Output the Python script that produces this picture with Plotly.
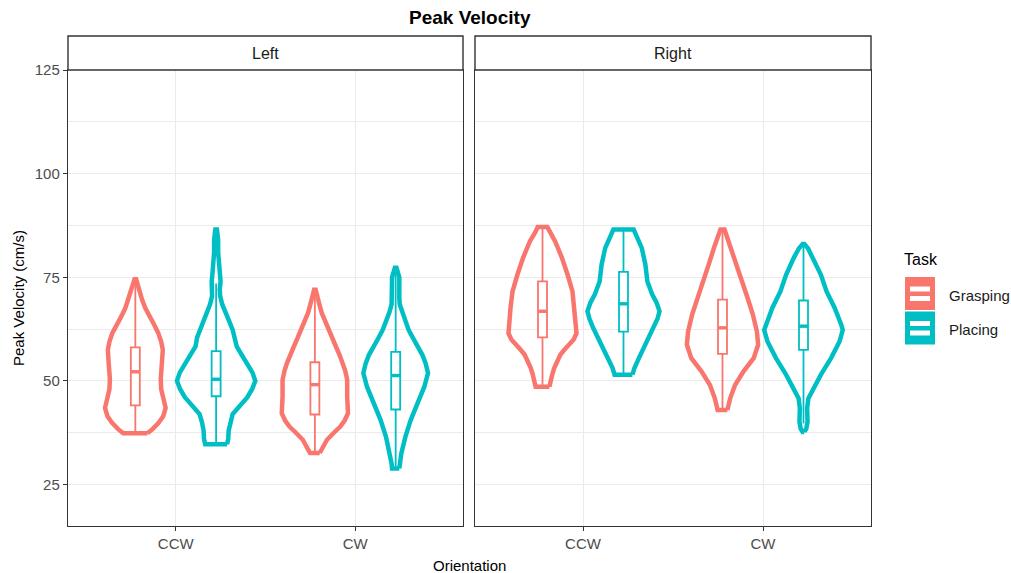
import plotly.graph_objects as go

# ---- categories -------------------------------------------------------------
sides = ["Left", "Right"]
orientations = ["CCW", "CW"]
tasks = ["Grasping", "Placing"]
task_colors = ["#F8766D", "#00BFC4"]

# ---- violin density profiles (velocity level, relative density) -------------
left_ccw_grasp_v = [37.4, 38.3, 39.8, 41.5, 43.5, 45.5, 48.0, 50.5, 54.3, 57.5,
                    59.5, 61.5, 63.5, 65.5, 67.5, 69.5, 71.5, 73.0, 74.5]
left_ccw_grasp_d = [0.30, 0.42, 0.57, 0.69, 0.75, 0.69, 0.64, 0.63, 0.66, 0.68,
                    0.64, 0.57, 0.47, 0.35, 0.25, 0.17, 0.11, 0.07, 0.02]

left_ccw_place_v = [34.7, 36.0, 38.0, 40.0, 42.0, 44.0, 46.0, 48.0, 50.0, 52.0,
                    54.3, 56.5, 58.3, 60.5, 62.3, 64.5, 66.4, 68.5, 70.5, 72.0,
                    74.0, 76.0, 78.0, 81.0, 84.0, 86.5]
left_ccw_place_d = [0.27, 0.30, 0.31, 0.35, 0.41, 0.59, 0.77, 0.89, 0.97, 0.90,
                    0.77, 0.62, 0.51, 0.47, 0.41, 0.32, 0.24, 0.15, 0.10, 0.09,
                    0.11, 0.09, 0.06, 0.05, 0.05, 0.02]

left_cw_grasp_v = [32.6, 33.5, 35.8, 37.5, 39.0, 40.5, 42.2, 46.2, 50.3, 52.5,
                   54.3, 56.3, 58.3, 60.3, 62.3, 64.3, 66.4, 68.5, 70.5, 72.0]
left_cw_grasp_d = [0.12, 0.17, 0.30, 0.47, 0.63, 0.74, 0.82, 0.80, 0.80, 0.75,
                   0.69, 0.61, 0.52, 0.43, 0.35, 0.25, 0.17, 0.11, 0.07, 0.02]

left_cw_place_v = [28.9, 30.0, 32.5, 36.5, 40.5, 44.6, 48.6, 51.9, 54.3, 56.3,
                   58.3, 60.3, 62.3, 64.3, 66.4, 68.5, 70.0, 72.5, 75.0, 77.3]
left_cw_place_d = [0.09, 0.10, 0.14, 0.24, 0.37, 0.54, 0.71, 0.80, 0.74, 0.66,
                   0.56, 0.43, 0.32, 0.24, 0.16, 0.10, 0.09, 0.09, 0.09, 0.02]

right_ccw_grasp_v = [48.6, 49.8, 51.5, 53.1, 54.7, 56.3, 57.5, 58.7, 60.0, 61.5,
                     63.6, 67.6, 71.6, 75.6, 79.7, 83.7, 86.0, 87.1]
right_ccw_grasp_d = [0.17, 0.19, 0.24, 0.29, 0.36, 0.44, 0.54, 0.64, 0.77, 0.84,
                     0.82, 0.79, 0.74, 0.62, 0.48, 0.31, 0.17, 0.12]

right_ccw_place_v = [51.5, 53.1, 55.5, 58.7, 62.8, 65.0, 66.8, 68.8, 70.8, 74.0,
                     78.1, 82.1, 85.0, 86.5]
right_ccw_place_d = [0.22, 0.27, 0.38, 0.54, 0.75, 0.84, 0.89, 0.82, 0.71, 0.59,
                     0.54, 0.45, 0.32, 0.25]

right_cw_grasp_v = [43.0, 45.8, 49.0, 52.3, 55.5, 58.7, 61.9, 66.0, 70.0, 74.0,
                    78.1, 82.1, 85.0, 86.5]
right_cw_grasp_d = [0.12, 0.19, 0.31, 0.52, 0.77, 0.88, 0.85, 0.75, 0.62, 0.48,
                    0.34, 0.21, 0.11, 0.05]

right_cw_place_v = [37.7, 38.5, 40.2, 42.0, 43.4, 45.8, 48.2, 51.5, 55.5, 59.5,
                    62.3, 63.6, 67.6, 71.6, 75.6, 79.7, 82.0, 83.0]
right_cw_place_d = [0.02, 0.07, 0.10, 0.09, 0.09, 0.12, 0.24, 0.43, 0.68, 0.89,
                    0.97, 0.93, 0.77, 0.57, 0.43, 0.24, 0.11, 0.02]

# ---- boxplot statistics, order: side x orientation x task -------------------
box_lower = [37.4, 34.7, 32.6, 28.9, 48.6, 51.5, 43.0, 39.7]
box_q1 = [44.1, 46.3, 41.9, 43.1, 60.5, 61.9, 56.5, 57.5]
box_median = [52.2, 50.4, 49.1, 51.3, 66.8, 68.6, 62.8, 63.2]
box_q3 = [58.1, 57.2, 54.5, 57.0, 74.0, 76.3, 69.6, 69.4]
box_upper = [74.5, 73.5, 72.0, 77.3, 87.1, 86.5, 86.5, 83.0]

y_ticks = [25, 50, 75, 100, 125]

profiles = [
    (left_ccw_grasp_v, left_ccw_grasp_d), (left_ccw_place_v, left_ccw_place_d),
    (left_cw_grasp_v, left_cw_grasp_d), (left_cw_place_v, left_cw_place_d),
    (right_ccw_grasp_v, right_ccw_grasp_d), (right_ccw_place_v, right_ccw_place_d),
    (right_cw_grasp_v, right_cw_grasp_d), (right_cw_place_v, right_cw_place_d),
]

# ---- geometry / style --------------------------------------------------------
DODGE = 0.225          # offset of each task inside an orientation slot
HALF_W = 0.225         # half width of a violin at relative density 1
BOX_W = 0.05
FONT = "Liberation Sans, Arial, sans-serif"
BORDER = "#333333"
GRID = "#EBEBEB"

W, H = 1011, 573
ML, MR, MT, MB = 68, 140, 70, 47
PW, PH = W - ML - MR, H - MT - MB


def px_x(px):
    return (px - ML) / PW


def px_y(py):
    return (H - MB - py) / PH


fig = go.Figure()

k = 0
for si, side in enumerate(sides):
    xa = "x" if si == 0 else "x2"
    ya = "y" if si == 0 else "y2"
    for oi, orient in enumerate(orientations):
        for ti, task in enumerate(tasks):
            col = task_colors[ti]
            c = (oi + 1) + (DODGE if ti else -DODGE)
            vv, dd = profiles[k]
            # violin outline (background is white, so no fill is needed)
            xs = [c + d * HALF_W for d in dd] + [c - d * HALF_W for d in dd[::-1]]
            ys = list(vv) + list(vv[::-1])
            fig.add_trace(go.Scatter(
                x=xs + [xs[0]], y=ys + [ys[0]], mode="lines",
                line=dict(color=col, width=4.5),
                xaxis=xa, yaxis=ya, showlegend=False, hoverinfo="skip"))
            # boxplot from precomputed statistics
            fig.add_trace(go.Box(
                orientation="v",
                x=[c], q1=[box_q1[k]], median=[box_median[k]], q3=[box_q3[k]],
                lowerfence=[box_lower[k]], upperfence=[box_upper[k]],
                width=BOX_W, whiskerwidth=0, boxpoints=False,
                fillcolor="white", line=dict(color=col, width=1.8),
                xaxis=xa, yaxis=ya, showlegend=False, hoverinfo="skip"))
            # thicker median bar
            fig.add_trace(go.Scatter(
                x=[c - BOX_W / 2, c + BOX_W / 2], y=[box_median[k]] * 2,
                mode="lines", line=dict(color=col, width=3.4),
                xaxis=xa, yaxis=ya, showlegend=False, hoverinfo="skip"))
            k += 1

left_dom = [0, px_x(463)]
right_dom = [px_x(475), 1]

xcommon = dict(range=[0.4, 2.6], tickvals=[1, 2], ticktext=orientations,
               showgrid=True, gridcolor=GRID, gridwidth=1.2, zeroline=False,
               ticks="outside", ticklen=4, tickwidth=1.2, tickcolor=BORDER,
               showline=True, mirror=True, linecolor=BORDER, linewidth=1.4,
               tickfont=dict(family=FONT, size=15, color="#4D4D4D"), fixedrange=True)
ycommon = dict(range=[15, 125], tickvals=y_ticks, showgrid=True, gridcolor=GRID,
               gridwidth=1.2, zeroline=False, showline=True, mirror=True,
               linecolor=BORDER, linewidth=1.4,
               minor=dict(tickvals=[37.5, 62.5, 87.5, 112.5], showgrid=True,
                          gridcolor=GRID, gridwidth=0.7, ticks=""),
               fixedrange=True)

fig.update_layout(
    width=W, height=H, margin=dict(l=ML, r=MR, t=MT, b=MB),
    paper_bgcolor="white", plot_bgcolor="white", showlegend=False,
    font=dict(family=FONT, color="#1A1A1A"),
    xaxis=dict(domain=left_dom, anchor="y", **xcommon),
    xaxis2=dict(domain=right_dom, anchor="y2", **xcommon),
    yaxis=dict(domain=[0, 1], anchor="x", ticks="outside", ticklen=4,
               tickwidth=1.2, tickcolor=BORDER,
               tickfont=dict(family=FONT, size=15, color="#4D4D4D"), **ycommon),
    yaxis2=dict(domain=[0, 1], anchor="x2", showticklabels=False, ticks="",
                **ycommon),
)

shapes = []
annotations = []

# facet strips
strip_top = px_y(36)
for dom, side in zip([left_dom, right_dom], sides):
    shapes.append(dict(type="rect", xref="paper", yref="paper", x0=dom[0], x1=dom[1],
                       y0=1, y1=strip_top, fillcolor="white",
                       line=dict(color=BORDER, width=1.4), layer="above"))
    annotations.append(dict(xref="paper", yref="paper", x=(dom[0] + dom[1]) / 2,
                            y=(1 + strip_top) / 2, text=side, showarrow=False,
                            xanchor="center", yanchor="middle",
                            font=dict(family=FONT, size=16, color="#1A1A1A")))

# titles
annotations.append(dict(xref="paper", yref="paper", x=0.5, y=px_y(17),
                        text="<b>Peak Velocity</b>", showarrow=False,
                        xanchor="center", yanchor="middle",
                        font=dict(family=FONT, size=19, color="#000000")))
annotations.append(dict(xref="paper", yref="paper", x=0.5, y=px_y(565),
                        text="Orientation", showarrow=False,
                        xanchor="center", yanchor="middle",
                        font=dict(family=FONT, size=15, color="#000000")))
annotations.append(dict(xref="paper", yref="paper", x=px_x(18), y=0.5,
                        text="Peak Velocity (cm/s)", showarrow=False, textangle=-90,
                        xanchor="center", yanchor="middle",
                        font=dict(family=FONT, size=15, color="#000000")))

# legend drawn by hand: violin-with-box keys
annotations.append(dict(xref="paper", yref="paper", x=px_x(902), y=px_y(259),
                        text="Task", showarrow=False, xanchor="left",
                        yanchor="middle",
                        font=dict(family=FONT, size=16, color="#000000")))
for ti, task in enumerate(tasks):
    top = 277 + ti * 34.5
    col = task_colors[ti]
    shapes.append(dict(type="rect", xref="paper", yref="paper",
                       x0=px_x(905), x1=px_x(935), y0=px_y(top), y1=px_y(top + 33),
                       fillcolor=col, line=dict(width=0)))
    for a, b in [(9.5, 14.5), (19, 24)]:
        shapes.append(dict(type="rect", xref="paper", yref="paper",
                           x0=px_x(910), x1=px_x(930), y0=px_y(top + a),
                           y1=px_y(top + b), fillcolor="white", line=dict(width=0)))
    annotations.append(dict(xref="paper", yref="paper", x=px_x(947),
                            y=px_y(top + 18), text=task, showarrow=False,
                            xanchor="left", yanchor="middle",
                            font=dict(family=FONT, size=15, color="#1A1A1A")))

fig.update_layout(shapes=shapes, annotations=annotations)

fig.write_html("out.html", config={"displayModeBar": False})
